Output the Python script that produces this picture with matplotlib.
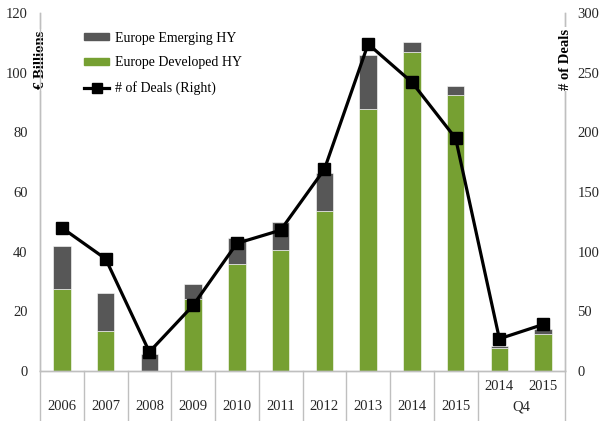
import numpy as np
import matplotlib.pyplot as plt
from matplotlib.patches import Patch
from matplotlib.lines import Line2D

years = ['2006', '2007', '2008', '2009', '2010', '2011', '2012', '2013', '2014', '2015', '2014', '2015']
groups = ['', '', '', '', '', '', '', '', '', '', 'Q4', 'Q4']
developed = [27.6, 13.5, 0.0, 24.0, 35.9, 40.6, 53.5, 87.7, 106.9, 92.5, 7.8, 12.5]
total = [42.0, 26.0, 5.7, 29.3, 44.7, 49.8, 66.3, 105.9, 110.3, 95.5, 8.5, 14.2]
deals = [120, 94, 16, 55, 107, 118, 169, 274, 242, 195, 27, 39]

emerging = [t - d for t, d in zip(total, developed)]

green = '#76a032'
grey = '#575757'
axis_col = '#bfbfbf'
txt = '#262626'

plt.rcParams['font.family'] = ['Liberation Serif', 'DejaVu Serif']
plt.rcParams['font.size'] = 10.5

fig = plt.figure(figsize=(6, 4.21), dpi=100)
ax = fig.add_axes([40/600, 1-371/421, 525/600, 358/421])
x = np.arange(len(years))

ax.bar(x, developed, width=0.4, color=green, edgecolor='white', linewidth=0.4)
ax.bar(x, emerging, bottom=developed, width=0.4, color=grey, edgecolor='white', linewidth=0.4)

ax.set_xlim(-0.5, len(years) - 0.5)
ax.set_ylim(0, 120)
ax.set_yticks(range(0, 121, 20))
ax.set_xticks([])
ax.tick_params(axis='y', length=0, pad=9, colors=txt)

ax2 = ax.twinx()
ax2.plot(x, deals, color='black', lw=2.3, marker='s', markersize=9)
ax2.set_ylim(0, 300)
ax2.set_yticks(range(0, 301, 50))
ax2.tick_params(axis='y', length=0, pad=9, colors=txt)

for a in (ax, ax2):
    a.spines['top'].set_visible(False)
    for s in ('left', 'right', 'bottom'):
        a.spines[s].set_color(axis_col)
        a.spines[s].set_linewidth(1)

# multi-level category labels
px = 120 / 358
for i, (yr, g) in enumerate(zip(years, groups)):
    yy = -16 * px if g else -36 * px
    ax.text(i, yy, yr, ha='center', va='center', color=txt)
ax.text(10.5, -36 * px, 'Q4', ha='center', va='center', color=txt)

for k in list(range(0, 11)) + [12]:
    ax.add_line(Line2D([k - 0.5, k - 0.5], [0, -50 * px], color=axis_col, lw=1, clip_on=False))

# axis titles sitting on the spines
ax.text(0, (371 - 60) / 358, '€ Billions', transform=ax.transAxes, rotation=90,
        ha='center', va='center', fontweight='bold',
        bbox=dict(facecolor='white', edgecolor='none', pad=1))
ax2.text(1, (371 - 59) / 358, '# of Deals', transform=ax2.transAxes, rotation=90,
         ha='center', va='center', fontweight='bold',
         bbox=dict(facecolor='white', edgecolor='none', pad=1))

handles = [Patch(color=grey), Patch(color=green),
           Line2D([], [], color='black', lw=2.3, marker='s', markersize=7)]
labels = ['Europe Emerging HY', 'Europe Developed HY', '# of Deals (Right)']
ax.legend(handles, labels, loc='upper left', bbox_to_anchor=(0.06, 0.983), frameon=False,
          handlelength=1.8, handleheight=0.35, labelspacing=0.85, handletextpad=0.4,
          fontsize=10)

plt.savefig('out.png', dpi=100)
